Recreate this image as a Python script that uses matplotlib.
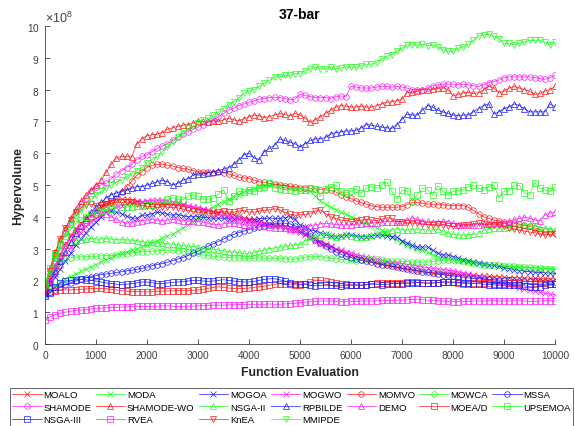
import numpy as np
import matplotlib
matplotlib.use("Agg")
import matplotlib.pyplot as plt
from matplotlib.ticker import ScalarFormatter

plt.rcParams['font.family'] = ['Liberation Sans', 'DejaVu Sans']
plt.rcParams['mathtext.fontset'] = 'custom'
plt.rcParams['mathtext.rm'] = 'Liberation Sans'
plt.rcParams['mathtext.it'] = 'Liberation Sans'
plt.rcParams['mathtext.bf'] = 'Liberation Sans:bold'

# x positions: function evaluations 0..10000 every 100
evaluations = list(range(0, 10001, 100))

# Hypervolume values in units of 1e8
MOALO = [1.62, 2.05, 2.45, 2.80, 3.12, 3.40, 3.62, 3.80, 3.96, 4.08,
         4.20, 4.32, 4.43, 4.50, 4.55, 4.56, 4.55, 4.53, 4.50, 4.47,
         4.45, 4.44, 4.43, 4.42, 4.41, 4.40, 4.40, 4.38, 4.35, 4.30,
         4.25, 4.22, 4.20, 4.17, 4.14, 4.12, 4.10, 4.06, 4.02, 3.97,
         3.93, 3.88, 3.85, 3.82, 3.78, 3.75, 3.73, 3.70, 3.68, 3.65,
         3.55, 3.47, 3.38, 3.30, 3.22, 3.15, 3.08, 3.00, 2.93, 2.86,
         2.80, 2.75, 2.70, 2.65, 2.60, 2.55, 2.51, 2.47, 2.44, 2.41,
         2.38, 2.36, 2.33, 2.30, 2.28, 2.25, 2.24, 2.23, 2.22, 2.21,
         2.20, 2.19, 2.18, 2.17, 2.16, 2.15, 2.14, 2.13, 2.12, 2.11,
         2.10, 2.09, 2.09, 2.08, 2.08, 2.07, 2.07, 2.06, 2.06, 2.05,
         2.05]
MODA = [1.60, 1.72, 1.85, 1.95, 2.05, 2.12, 2.20, 2.28, 2.35, 2.42,
        2.50, 2.58, 2.65, 2.72, 2.80, 2.85, 2.90, 2.95, 3.00, 3.05,
        3.10, 3.17, 3.25, 3.32, 3.40, 3.45, 3.55, 3.65, 3.75, 3.85,
        3.95, 4.07, 4.20, 4.30, 4.40, 4.48, 4.55, 4.62, 4.70, 4.78,
        4.85, 4.90, 4.95, 4.98, 5.00, 5.02, 5.00, 4.98, 4.95, 4.92,
        4.90, 4.85, 4.80, 4.65, 4.50, 4.40, 4.30, 4.22, 4.15, 4.08,
        4.00, 3.92, 3.85, 3.78, 3.70, 3.65, 3.60, 3.48, 3.35, 3.27,
        3.20, 3.12, 3.05, 3.00, 2.95, 2.88, 2.80, 2.75, 2.70, 2.68,
        2.65, 2.62, 2.60, 2.57, 2.55, 2.52, 2.50, 2.49, 2.47, 2.46,
        2.45, 2.44, 2.43, 2.42, 2.41, 2.40, 2.40, 2.39, 2.38, 2.37,
        2.35]
MOGOA = [1.58, 1.85, 2.10, 2.35, 2.60, 2.85, 3.10, 3.30, 3.50, 3.68,
         3.85, 4.00, 4.15, 4.18, 4.15, 4.10, 4.02, 3.97, 3.95, 4.05,
         4.05, 4.10, 4.15, 4.12, 4.08, 4.05, 4.07, 4.03, 4.00, 4.00,
         4.00, 3.98, 3.97, 3.95, 3.96, 3.95, 3.94, 3.93, 3.92, 3.90,
         3.90, 3.92, 3.94, 3.95, 3.96, 3.95, 3.95, 3.97, 4.00, 3.92,
         3.75, 3.68, 3.60, 3.55, 3.50, 3.45, 3.40, 3.38, 3.40, 3.43,
         3.43, 3.40, 3.38, 3.38, 3.40, 3.42, 3.43, 3.40, 3.38, 3.36,
         3.25, 3.18, 3.10, 3.05, 3.05, 3.05, 2.95, 2.85, 2.80, 2.80,
         2.75, 2.70, 2.65, 2.62, 2.58, 2.55, 2.52, 2.50, 2.47, 2.44,
         2.40, 2.37, 2.34, 2.31, 2.29, 2.27, 2.26, 2.25, 2.24, 2.23,
         2.22]
MOGWO = [1.60, 1.90, 2.20, 2.50, 2.80, 3.05, 3.30, 3.50, 3.70, 3.85,
         3.95, 4.05, 4.15, 4.22, 4.30, 4.35, 4.40, 4.43, 4.45, 4.48,
         4.50, 4.52, 4.53, 4.52, 4.50, 4.48, 4.45, 4.40, 4.35, 4.32,
         4.30, 4.25, 4.20, 4.15, 4.10, 4.05, 4.00, 3.97, 3.94, 3.90,
         3.87, 3.84, 3.81, 3.78, 3.75, 3.72, 3.70, 3.65, 3.60, 3.55,
         3.50, 3.42, 3.35, 3.25, 3.15, 3.10, 3.05, 3.00, 2.95, 2.90,
         2.85, 2.81, 2.78, 2.74, 2.70, 2.66, 2.63, 2.60, 2.57, 2.55,
         2.53, 2.50, 2.48, 2.45, 2.42, 2.40, 2.38, 2.36, 2.34, 2.32,
         2.30, 2.27, 2.24, 2.20, 2.15, 2.10, 2.05, 2.00, 1.97, 1.93,
         1.90, 1.85, 1.81, 1.77, 1.73, 1.70, 1.66, 1.63, 1.60, 1.57,
         1.55]
MOMVO = [1.70, 2.05, 2.40, 2.75, 3.10, 3.35, 3.60, 3.75, 3.90, 4.00,
         4.10, 4.22, 4.35, 4.48, 4.60, 4.78, 4.95, 5.12, 5.30, 5.42,
         5.55, 5.62, 5.65, 5.66, 5.62, 5.60, 5.55, 5.52, 5.50, 5.45,
         5.42, 5.40, 5.40, 5.38, 5.40, 5.38, 5.35, 5.30, 5.25, 5.22,
         5.20, 5.15, 5.10, 5.08, 5.05, 5.02, 5.00, 4.98, 4.96, 4.94,
         4.92, 4.92, 4.90, 4.88, 4.85, 4.85, 4.83, 4.78, 4.70, 4.62,
         4.58, 4.50, 4.45, 4.40, 4.35, 4.32, 4.30, 4.30, 4.30, 4.30,
         4.32, 4.38, 4.45, 4.45, 4.42, 4.40, 4.40, 4.38, 4.38, 4.35,
         4.35, 4.35, 4.35, 4.30, 4.20, 4.10, 4.00, 3.95, 3.90, 3.87,
         3.85, 3.82, 3.80, 3.77, 3.73, 3.70, 3.65, 3.60, 3.55, 3.52,
         3.50]
MOWCA = [1.80, 2.20, 2.45, 2.60, 2.68, 2.72, 2.73, 2.74, 2.75, 2.76,
         2.76, 2.77, 2.78, 2.78, 2.80, 2.82, 2.84, 2.86, 2.88, 2.90,
         2.90, 2.92, 2.93, 2.94, 2.95, 2.95, 2.94, 2.92, 2.90, 2.88,
         2.85, 2.80, 2.78, 2.76, 2.74, 2.73, 2.72, 2.71, 2.70, 2.70,
         2.70, 2.70, 2.71, 2.70, 2.70, 2.69, 2.70, 2.68, 2.67, 2.67,
         2.70, 2.73, 2.75, 2.76, 2.75, 2.72, 2.70, 2.68, 2.66, 2.65,
         2.63, 2.62, 2.65, 2.66, 2.67, 2.66, 2.64, 2.62, 2.61, 2.60,
         2.60, 2.59, 2.58, 2.58, 2.57, 2.58, 2.60, 2.62, 2.64, 2.65,
         2.65, 2.63, 2.60, 2.58, 2.55, 2.52, 2.50, 2.49, 2.48, 2.47,
         2.46, 2.45, 2.44, 2.43, 2.42, 2.41, 2.40, 2.39, 2.37, 2.36,
         2.35]
MSSA = [1.55, 1.62, 1.70, 1.78, 1.85, 1.92, 1.98, 2.03, 2.08, 2.12,
        2.15, 2.18, 2.20, 2.22, 2.25, 2.27, 2.30, 2.32, 2.35, 2.38,
        2.42, 2.46, 2.50, 2.53, 2.57, 2.62, 2.67, 2.72, 2.78, 2.85,
        2.92, 3.00, 3.08, 3.15, 3.22, 3.30, 3.38, 3.45, 3.50, 3.55,
        3.60, 3.65, 3.68, 3.72, 3.75, 3.78, 3.80, 3.80, 3.78, 3.72,
        3.62, 3.52, 3.40, 3.28, 3.18, 3.08, 2.98, 2.90, 2.82, 2.76,
        2.72, 2.67, 2.63, 2.60, 2.57, 2.53, 2.50, 2.47, 2.45, 2.42,
        2.38, 2.35, 2.33, 2.30, 2.27, 2.25, 2.23, 2.20, 2.18, 2.16,
        2.14, 2.12, 2.10, 2.08, 2.06, 2.05, 2.04, 2.03, 2.02, 2.01,
        2.00, 2.00, 1.99, 1.98, 1.98, 1.97, 1.97, 1.96, 1.96, 1.95,
        1.95]
SHAMODE = [1.70, 2.20, 2.70, 3.10, 3.50, 3.85, 4.15, 4.40, 4.60, 4.80,
           4.95, 5.00, 5.05, 5.20, 5.35, 5.45, 5.55, 5.65, 5.80, 5.90,
           5.95, 6.05, 6.15, 6.22, 6.30, 6.40, 6.50, 6.60, 6.68, 6.75,
           6.82, 6.90, 6.98, 7.05, 7.15, 7.25, 7.35, 7.42, 7.50, 7.55,
           7.60, 7.65, 7.70, 7.72, 7.75, 7.76, 7.75, 7.72, 7.68, 7.70,
           7.85, 7.82, 7.78, 7.75, 7.75, 7.75, 7.72, 7.78, 7.80, 7.78,
           8.10, 8.08, 8.05, 8.05, 8.05, 8.08, 8.10, 8.10, 8.08, 8.10,
           8.08, 8.05, 8.00, 8.00, 8.00, 8.05, 8.12, 8.15, 8.17, 8.17,
           8.17, 8.15, 8.17, 8.15, 8.12, 8.10, 8.15, 8.22, 8.25, 8.30,
           8.38, 8.40, 8.40, 8.40, 8.40, 8.40, 8.38, 8.35, 8.32, 8.38,
           8.45]
SHAMODE_WO = [1.80, 2.40, 2.90, 3.30, 3.65, 3.95, 4.25, 4.50, 4.70, 4.85,
              5.00, 5.15, 5.40, 5.65, 5.85, 5.90, 5.90, 5.88, 6.30, 6.45,
              6.55, 6.58, 6.60, 6.65, 6.75, 6.80, 6.85, 6.88, 6.90, 6.95,
              7.00, 7.00, 6.98, 7.02, 7.00, 7.05, 7.10, 7.05, 7.02, 7.08,
              7.15, 7.20, 7.18, 7.12, 7.15, 7.20, 7.25, 7.22, 7.18, 7.25,
              7.20, 7.10, 6.97, 7.05, 7.15, 7.25, 7.35, 7.45, 7.50, 7.48,
              7.45, 7.45, 7.48, 7.45, 7.45, 7.50, 7.55, 7.60, 7.62, 7.65,
              7.70, 7.90, 7.92, 7.95, 8.00, 8.00, 8.02, 8.05, 8.05, 8.00,
              7.80, 7.85, 7.90, 7.92, 7.88, 7.90, 8.00, 8.10, 8.05, 7.90,
              7.95, 8.05, 8.10, 8.05, 8.00, 7.95, 7.85, 7.88, 7.95, 8.00,
              8.10]
NSGA_II = [1.90, 2.30, 2.70, 2.95, 3.10, 3.20, 3.25, 3.28, 3.30, 3.32,
           3.30, 3.30, 3.32, 3.30, 3.28, 3.30, 3.27, 3.27, 3.25, 3.22,
           3.20, 3.20, 3.18, 3.18, 3.15, 3.15, 3.12, 3.10, 3.08, 3.07,
           3.05, 3.02, 3.00, 2.98, 2.95, 2.93, 2.90, 2.90, 2.88, 2.85,
           2.85, 2.88, 2.92, 2.96, 3.00, 3.02, 3.05, 3.08, 3.10, 3.12,
           3.15, 3.25, 3.35, 3.40, 3.42, 3.45, 3.42, 3.38, 3.40, 3.45,
           3.40, 3.37, 3.35, 3.38, 3.42, 3.45, 3.50, 3.55, 3.60, 3.62,
           3.60, 3.58, 3.60, 3.62, 3.60, 3.58, 3.60, 3.62, 3.55, 3.50,
           3.45, 3.43, 3.42, 3.43, 3.45, 3.50, 3.60, 3.62, 3.65, 3.65,
           3.65, 3.68, 3.70, 3.72, 3.75, 3.75, 3.72, 3.68, 3.65, 3.62,
           3.60]
RPBILDE = [1.60, 1.95, 2.30, 2.60, 2.90, 3.20, 3.50, 3.72, 3.95, 4.15,
           4.30, 4.45, 4.60, 4.70, 4.75, 4.80, 4.85, 4.90, 4.95, 4.95,
           5.00, 5.05, 5.10, 5.15, 5.10, 5.00, 5.05, 5.15, 5.20, 5.30,
           5.35, 5.35, 5.38, 5.42, 5.45, 5.50, 5.55, 5.65, 5.80, 5.95,
           6.00, 5.85, 5.80, 6.05, 6.15, 6.25, 6.45, 6.40, 6.35, 6.30,
           6.20, 6.30, 6.40, 6.45, 6.45, 6.50, 6.60, 6.65, 6.67, 6.70,
           6.70, 6.72, 6.80, 6.90, 6.88, 6.85, 6.82, 6.80, 6.78, 6.90,
           7.07, 7.23, 7.20, 7.20, 7.35, 7.50, 7.45, 7.35, 7.30, 7.25,
           7.20, 7.18, 7.20, 7.20, 7.30, 7.40, 7.50, 7.55, 7.23, 7.30,
           7.40, 7.45, 7.55, 7.50, 7.40, 7.30, 7.30, 7.30, 7.30, 7.55,
           7.45]
DEMO = [1.70, 2.10, 2.45, 2.80, 3.10, 3.35, 3.55, 3.75, 3.90, 4.02,
        4.10, 4.15, 4.10, 4.00, 3.92, 3.85, 3.80, 3.82, 3.85, 3.88,
        3.90, 3.92, 3.90, 3.88, 3.90, 3.92, 3.90, 3.88, 3.87, 3.86,
        3.85, 3.83, 3.80, 3.76, 3.75, 3.78, 3.80, 3.80, 3.78, 3.75,
        3.73, 3.72, 3.70, 3.70, 3.68, 3.66, 3.65, 3.64, 3.62, 3.62,
        3.65, 3.68, 3.72, 3.75, 3.78, 3.80, 3.78, 3.76, 3.75, 3.74,
        3.75, 3.77, 3.78, 3.80, 3.80, 3.82, 3.83, 3.85, 3.85, 3.84,
        3.85, 3.90, 3.97, 3.92, 3.88, 3.86, 3.85, 3.85, 3.86, 3.85,
        3.80, 3.75, 3.75, 3.73, 3.75, 3.75, 3.76, 3.78, 3.80, 3.80,
        3.82, 3.86, 3.92, 3.95, 3.98, 3.96, 3.90, 3.88, 4.05, 4.12,
        4.15]
MOEA_D = [1.62, 1.65, 1.68, 1.70, 1.70, 1.70, 1.71, 1.72, 1.73, 1.74,
          1.75, 1.75, 1.74, 1.72, 1.70, 1.68, 1.66, 1.65, 1.65, 1.64,
          1.64, 1.65, 1.66, 1.66, 1.67, 1.67, 1.68, 1.68, 1.68, 1.69,
          1.70, 1.72, 1.75, 1.78, 1.80, 1.78, 1.76, 1.75, 1.74, 1.75,
          1.76, 1.78, 1.80, 1.82, 1.85, 1.88, 1.90, 1.90, 1.88, 1.86,
          1.85, 1.90, 1.95, 2.00, 2.00, 1.98, 1.95, 1.92, 1.90, 1.88,
          1.86, 1.85, 1.85, 1.87, 1.90, 1.92, 1.93, 1.93, 1.92, 1.92,
          1.93, 1.95, 1.95, 1.94, 1.93, 1.92, 1.92, 1.93, 1.95, 1.95,
          1.94, 1.92, 1.90, 1.90, 1.91, 1.92, 1.93, 1.92, 1.90, 1.90,
          1.90, 1.91, 1.92, 1.92, 1.90, 1.90, 1.91, 1.92, 1.92, 1.90,
          1.90]
UPSEMOA = [1.90, 2.40, 2.80, 3.15, 3.40, 3.60, 3.78, 3.90, 4.00, 4.08,
           4.15, 4.18, 4.20, 4.25, 4.28, 4.30, 4.30, 4.32, 4.33, 4.35,
           4.38, 4.38, 4.40, 4.45, 4.55, 4.60, 4.55, 4.53, 4.65, 4.70,
           4.65, 4.55, 4.55, 4.60, 4.72, 4.85, 4.50, 4.65, 4.80, 4.78,
           4.85, 4.80, 4.90, 4.95, 5.05, 4.92, 4.88, 4.85, 4.85, 4.80,
           4.85, 4.85, 4.90, 4.88, 4.65, 4.87, 4.95, 5.00, 4.80, 4.75,
           4.80, 4.88, 4.75, 4.90, 4.95, 4.90, 5.00, 5.10, 4.80, 4.55,
           4.85, 4.80, 4.50, 4.70, 4.90, 4.85, 4.70, 4.97, 4.80, 4.70,
           4.80, 4.82, 4.85, 4.95, 5.00, 4.90, 4.85, 4.95, 5.00, 4.60,
           4.80, 4.82, 5.00, 4.98, 4.75, 4.70, 5.07, 4.90, 4.85, 4.80,
           4.95]
NSGA_III = [1.50, 1.60, 1.80, 1.92, 1.98, 2.00, 2.02, 2.03, 2.02, 2.00,
            1.98, 1.95, 1.92, 1.90, 1.88, 1.87, 1.88, 1.90, 1.92, 1.95,
            1.95, 1.93, 1.90, 1.90, 1.92, 1.94, 1.95, 1.96, 1.98, 2.00,
            2.00, 1.98, 1.97, 1.98, 2.00, 2.02, 2.00, 1.98, 1.96, 1.95,
            1.95, 1.97, 2.00, 2.03, 2.05, 2.05, 2.02, 1.98, 1.93, 1.90,
            1.88, 1.88, 1.85, 1.83, 1.84, 1.85, 1.85, 1.84, 1.83, 1.84,
            1.85, 1.86, 1.85, 1.86, 1.88, 1.88, 1.87, 1.88, 1.90, 1.90,
            1.90, 1.91, 1.92, 1.93, 1.92, 1.91, 1.92, 1.93, 1.95, 1.95,
            1.95, 1.94, 1.93, 1.92, 1.90, 1.90, 1.88, 1.87, 1.86, 1.85,
            1.85, 1.86, 1.85, 1.84, 1.83, 1.80, 1.78, 1.80, 1.85, 1.88,
            1.88]
RVEA = [0.75, 0.86, 0.92, 0.97, 1.00, 1.03, 1.05, 1.07, 1.08, 1.10,
        1.12, 1.13, 1.14, 1.15, 1.15, 1.16, 1.17, 1.17, 1.18, 1.18,
        1.18, 1.19, 1.19, 1.20, 1.20, 1.19, 1.18, 1.18, 1.19, 1.19,
        1.20, 1.20, 1.21, 1.22, 1.22, 1.22, 1.23, 1.23, 1.24, 1.24,
        1.25, 1.25, 1.25, 1.25, 1.26, 1.25, 1.25, 1.26, 1.27, 1.28,
        1.30, 1.32, 1.33, 1.34, 1.35, 1.35, 1.35, 1.34, 1.33, 1.33,
        1.34, 1.34, 1.35, 1.35, 1.35, 1.36, 1.37, 1.37, 1.37, 1.38,
        1.38, 1.39, 1.40, 1.40, 1.39, 1.38, 1.37, 1.36, 1.35, 1.34,
        1.33, 1.33, 1.34, 1.34, 1.35, 1.35, 1.35, 1.36, 1.36, 1.35,
        1.35, 1.35, 1.36, 1.36, 1.35, 1.34, 1.34, 1.35, 1.36, 1.36,
        1.35]
KnEA = [1.70, 2.30, 2.85, 3.30, 3.65, 3.90, 4.15, 4.30, 4.38, 4.40,
        4.35, 4.38, 4.40, 4.42, 4.45, 4.45, 4.47, 4.45, 4.40, 4.35,
        4.33, 4.32, 4.30, 4.32, 4.30, 4.30, 4.28, 4.25, 4.20, 4.17,
        4.15, 4.15, 4.12, 4.10, 4.15, 4.18, 4.15, 4.15, 4.18, 4.20,
        4.15, 4.15, 4.18, 4.20, 4.22, 4.25, 4.22, 4.15, 4.08, 4.05,
        4.06, 4.08, 4.10, 4.18, 4.22, 4.10, 4.00, 3.95, 3.90, 3.88,
        3.85, 3.87, 3.90, 3.92, 3.90, 3.88, 3.92, 3.97, 3.95, 3.85,
        3.85, 3.82, 3.80, 3.80, 3.78, 3.75, 3.75, 3.78, 3.75, 3.72,
        3.70, 3.72, 3.75, 3.75, 3.78, 3.80, 3.78, 3.75, 3.75, 3.75,
        3.70, 3.65, 3.62, 3.58, 3.55, 3.52, 3.50, 3.45, 3.42, 3.45,
        3.47]
MMIPDE = [1.80, 2.25, 2.70, 3.10, 3.45, 3.75, 4.00, 4.20, 4.40, 4.55,
          4.70, 4.80, 4.90, 5.00, 5.10, 5.17, 5.25, 5.35, 5.45, 5.55,
          5.70, 5.80, 5.90, 6.05, 6.20, 6.35, 6.50, 6.65, 6.78, 6.85,
          6.95, 7.05, 7.10, 7.20, 7.30, 7.40, 7.52, 7.62, 7.75, 7.88,
          7.95, 8.00, 8.10, 8.20, 8.30, 8.40, 8.40, 8.45, 8.45, 8.50,
          8.50, 8.60, 8.65, 8.70, 8.65, 8.65, 8.70, 8.65, 8.68, 8.72,
          8.70, 8.70, 8.75, 8.80, 8.80, 8.85, 8.95, 9.05, 9.10, 9.20,
          9.30, 9.40, 9.40, 9.40, 9.42, 9.38, 9.40, 9.35, 9.25, 9.20,
          9.20, 9.30, 9.35, 9.42, 9.55, 9.70, 9.72, 9.75, 9.68, 9.60,
          9.45, 9.45, 9.40, 9.45, 9.50, 9.55, 9.55, 9.55, 9.50, 9.40,
          9.50]

labels = ['MOALO', 'MODA', 'MOGOA', 'MOGWO', 'MOMVO', 'MOWCA', 'MSSA',
          'SHAMODE', 'SHAMODE-WO', 'NSGA-II', 'RPBILDE', 'DEMO', 'MOEA/D',
          'UPSEMOA', 'NSGA-III', 'RVEA', 'KnEA', 'MMIPDE']
series = [MOALO, MODA, MOGOA, MOGWO, MOMVO, MOWCA, MSSA, SHAMODE,
          SHAMODE_WO, NSGA_II, RPBILDE, DEMO, MOEA_D, UPSEMOA, NSGA_III,
          RVEA, KnEA, MMIPDE]
scale = 1e8

color_cycle = ['#ff1a1a', '#1aff1a', '#1a1aff', '#ff1aff']
marker_cycle = ['x'] * 4 + ['o'] * 4 + ['^'] * 4 + ['s'] * 4 + ['v'] * 4

fig = plt.figure(figsize=(5.75, 4.27), dpi=100)
ax = fig.add_axes([45/575, 1 - 345/427, 510/575, (345 - 27)/427])

axis_col = '#404040'
handles = []
x = np.array(evaluations)
for i, (lab, vals) in enumerate(zip(labels, series)):
    col = color_cycle[i % 4]
    h, = ax.plot(x, np.array(vals) * scale, color=col, lw=0.5,
                 marker=marker_cycle[i], ms=4, mew=0.5, mfc='none',
                 mec=col, label=lab)
    handles.append(h)

ax.set_xlim(0, 10000)
ax.set_ylim(0, 10 * scale)
ax.set_xticks(range(0, 10001, 1000))
ax.set_yticks(np.arange(0, 11) * scale)
fmt = ScalarFormatter(useMathText=True)
fmt.set_powerlimits((8, 8))
ax.yaxis.set_major_formatter(fmt)
ax.yaxis.get_offset_text().set_fontsize(9)
ax.yaxis.get_offset_text().set_color(axis_col)

for s in ['top', 'right']:
    ax.spines[s].set_visible(False)
for s in ['left', 'bottom']:
    ax.spines[s].set_color(axis_col)
    ax.spines[s].set_linewidth(0.6)
ax.tick_params(direction='in', length=3.5, width=0.6, colors=axis_col,
               labelsize=7.3, pad=4)

ax.set_title('37-bar', fontsize=10, fontweight='bold', pad=6)
ax.set_xlabel('Function Evaluation', fontsize=8.8, fontweight='bold',
              color='#262626', labelpad=5)
ax.set_ylabel('Hypervolume', fontsize=8.8, fontweight='bold',
              color='#262626')
ax.yaxis.set_label_coords(-0.041, 0.5)

# Legend in row-major order across 7 columns
ncol = 7
rows = [handles[r*ncol:(r+1)*ncol] for r in range(3)]
ordered = []
for c in range(ncol):
    for r in range(3):
        if c < len(rows[r]):
            ordered.append(rows[r][c])
leg = fig.legend(ordered, [h.get_label() for h in ordered],
                 loc='upper left', bbox_to_anchor=(10/575, 1 - 389/427),
                 ncol=ncol, fontsize=6.8, frameon=True, fancybox=False,
                 edgecolor='#262626', handlelength=3.1, handletextpad=0.2,
                 columnspacing=0.45, labelspacing=0.35, borderpad=0.25,
                 borderaxespad=0)
leg.get_frame().set_linewidth(0.6)

fig.savefig('out.png', dpi=100)
